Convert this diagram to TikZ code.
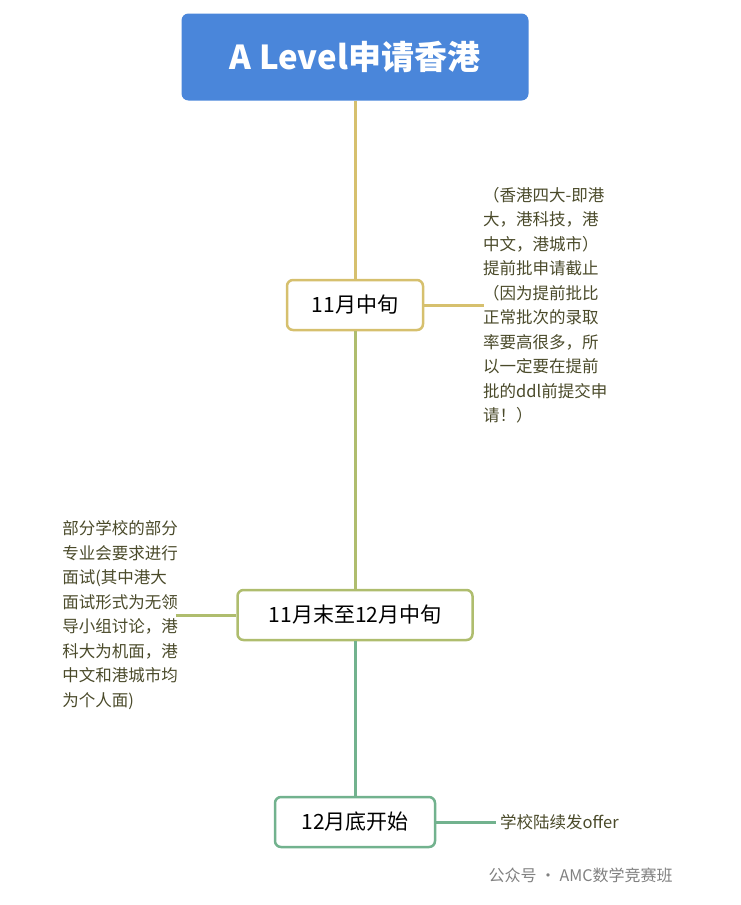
\documentclass[tikz,border=0pt]{standalone}
\usepackage{fontspec}
\setmainfont{Noto Sans CJK SC}
\begin{document}
\begin{tikzpicture}[x=1pt,y=-1pt,
  box/.style={draw,line width=2.5pt,rounded corners=6pt,fill=white,minimum height=50pt,font=\fontsize{21}{24}\selectfont,text=black},
  note/.style={font=\fontsize{16.5}{24.5}\selectfont,text=notec,align=left,inner sep=0pt}]
\definecolor{tb}{HTML}{4A86DA}
\definecolor{c1}{HTML}{D6C06E}
\definecolor{c2}{HTML}{AFBD6E}
\definecolor{c3}{HTML}{72B28E}
\definecolor{notec}{HTML}{4A4A2A}
\useasboundingbox (0,0) rectangle (740,905);
\node[fill=tb,rounded corners=7pt,minimum width=347pt,minimum height=87pt,text=white,font=\fontsize{33}{38}\selectfont\bfseries] (t) at (355,57) {A Level申请香港};
\node[box,draw=c1,minimum width=136pt] (n1) at (355,305) {11月中旬};
\node[box,draw=c2,minimum width=235pt] (n2) at (355,615) {11月末至12月中旬};
\node[box,draw=c3,minimum width=160pt] (n3) at (355,822) {12月底开始};
\draw[c1,line width=3pt] (t.south) -- (n1.north);
\draw[c2,line width=3pt] (n1.south) -- (n2.north);
\draw[c3,line width=3pt] (n2.south) -- (n3.north);
\node[note,anchor=west] (a1) at (483,305) {（香港四大-即港\\大，港科技，港\\中文，港城市）\\提前批申请截止\\（因为提前批比\\正常批次的录取\\率要高很多，所\\以一定要在提前\\批的ddl前提交申\\请！）};
\node[note,anchor=east] (a2) at (178,615) {部分学校的部分\\专业会要求进行\\面试(其中港大\\面试形式为无领\\导小组讨论，港\\科大为机面，港\\中文和港城市均\\为个人面)};
\node[note,anchor=west] (a3) at (500,822) {学校陆续发offer};
\draw[c1,line width=3pt] (n1.east) -- ++(60,0);
\draw[c2,line width=3pt] (n2.west) -- ++(-60,0);
\draw[c3,line width=3pt] (n3.east) -- ++(60,0);
\node[text=gray,font=\fontsize{16}{18}\selectfont,anchor=west] (w) at (485,875) {公众号 · AMC数学竞赛班};
\end{tikzpicture}
\end{document}
